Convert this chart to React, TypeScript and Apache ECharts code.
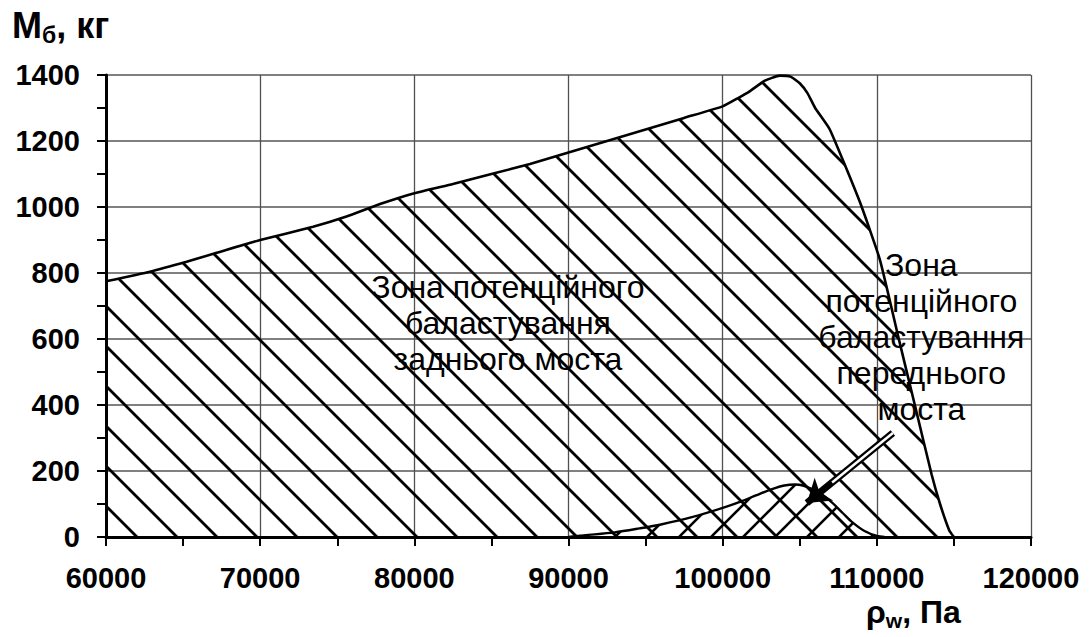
import React, { useEffect, useRef } from "react";
import * as echarts from "echarts";

// ---- data ----
const xTicks = { min: 60000, max: 120000, interval: 10000 };
const yTicks = { min: 0, max: 1400, interval: 200 };

// upper boundary of the rear-axle ballasting zone  [ρw, Мб]
const rearZone: [number, number][] = [
  [60000, 775], [62850, 804], [65230, 834], [67180, 861], [70000, 900],
  [73430, 940], [75600, 971], [77770, 1009], [80000, 1042], [82500, 1070],
  [85000, 1100], [87500, 1130], [90000, 1165], [92500, 1200], [95000, 1235],
  [97500, 1270], [100000, 1305], [101000, 1330], [101800, 1352], [102700, 1382],
  [103700, 1398], [104400, 1395], [105000, 1375], [105500, 1345], [106000, 1300],
  [106950, 1235], [108900, 1015], [110200, 840], [111400, 605], [112500, 393],
  [113550, 190], [114100, 100], [114700, 20], [115000, 0],
];

// boundary of the front-axle ballasting zone
const frontZone: [number, number][] = [
  [90000, 0], [91000, 5], [93000, 14], [94600, 26], [96000, 38], [98000, 60],
  [100000, 88], [101200, 108], [102200, 127], [103200, 145], [104000, 156],
  [104700, 159], [105200, 156], [105800, 145], [106400, 130], [107100, 104],
  [107800, 72], [108400, 45], [109200, 18], [110000, 3], [110500, 0],
];

// arrow annotation (data coordinates)
const arrowTail: [number, number] = [111040, 315];
const arrowTip: [number, number] = [105460, 103];
const arrowNeck: [number, number] = [107100, 165];

// text annotations (data coordinates)
const rearLabel = { text: "Зона потенційного\nбаластування\nзаднього моста", at: [86070, 648] };
const frontLabel = { text: "Зона\nпотенційного\nбаластування\nпереднього\nмоста", at: [112886, 606] };

const FONT = "'Liberation Sans', Arial, Helvetica, sans-serif";

function makeHatch(size: number, dir: "back" | "fwd", width: number) {
  const c = document.createElement("canvas");
  c.width = size;
  c.height = size;
  const ctx = c.getContext("2d")!;
  ctx.strokeStyle = "#000";
  ctx.lineWidth = width;
  ctx.lineCap = "square";
  for (const off of [-size, 0, size]) {
    ctx.beginPath();
    if (dir === "back") {
      ctx.moveTo(off, 0);
      ctx.lineTo(off + size, size);
    } else {
      ctx.moveTo(off, size);
      ctx.lineTo(off + size, 0);
    }
    ctx.stroke();
  }
  return c;
}

export default function App() {
  const ref = useRef<HTMLDivElement>(null);

  useEffect(() => {
    document.body.style.margin = "0";
    const chart = echarts.init(ref.current!, undefined, { renderer: "svg" });
    const backHatch = makeHatch(40, "back", 2.8);
    const fwdHatch = makeHatch(32, "fwd", 2.6);
    const plain = (v: number) => String(v);

    chart.setOption({
      animation: false,
      backgroundColor: "#fff",
      grid: { left: 106, right: 58, top: 75, bottom: 100, containLabel: false },
      xAxis: {
        type: "value",
        min: xTicks.min,
        max: xTicks.max,
        interval: xTicks.interval,
        axisLine: { show: true, onZero: false, lineStyle: { color: "#000", width: 3 } },
        axisTick: { show: true, length: 9, lineStyle: { color: "#000", width: 2 } },
        minorTick: { show: true, splitNumber: 2, length: 9, lineStyle: { color: "#000", width: 2 } },
        axisLabel: {
          margin: 26,
          color: "#000",
          fontSize: 29,
          fontWeight: "bold",
          fontFamily: FONT,
          formatter: plain,
        },
        splitLine: { show: true, lineStyle: { color: "#505050", width: 1.3 } },
      },
      yAxis: {
        type: "value",
        min: yTicks.min,
        max: yTicks.max,
        interval: yTicks.interval,
        axisLine: { show: true, onZero: false, lineStyle: { color: "#000", width: 3 } },
        axisTick: { show: true, length: 9, lineStyle: { color: "#000", width: 2 } },
        minorTick: { show: true, splitNumber: 2, length: 9, lineStyle: { color: "#000", width: 2 } },
        axisLabel: {
          margin: 26,
          color: "#000",
          fontSize: 29,
          fontWeight: "bold",
          fontFamily: FONT,
          formatter: plain,
        },
        splitLine: { show: true, lineStyle: { color: "#808080", width: 2 } },
      },
      series: [
        {
          type: "line",
          data: rearZone,
          smooth: 0.15,
          showSymbol: false,
          symbol: "none",
          lineStyle: { color: "#000", width: 2.6 },
          areaStyle: { color: { image: backHatch, repeat: "repeat" }, opacity: 1 },
          z: 3,
        },
        {
          type: "line",
          data: frontZone,
          smooth: 0.3,
          showSymbol: false,
          symbol: "none",
          lineStyle: { color: "#000", width: 2.4 },
          areaStyle: { color: { image: fwdHatch, repeat: "repeat" }, opacity: 1 },
          z: 4,
          markLine: {
            silent: true,
            animation: false,
            label: { show: false },
            data: [
              [
                { coord: arrowTail, symbol: "none", lineStyle: { color: "#000", width: 7, type: "solid" } },
                { coord: arrowTip, symbol: "arrow", symbolSize: 22 },
              ],
              [
                { coord: arrowTail, symbol: "none", lineStyle: { color: "#fff", width: 2.5, type: "solid" } },
                { coord: arrowNeck, symbol: "none" },
              ],
            ],
          },
        },
      ],
    });

    const p1 = chart.convertToPixel({ gridIndex: 0 }, rearLabel.at) as number[];
    const p2 = chart.convertToPixel({ gridIndex: 0 }, frontLabel.at) as number[];
    const labelStyle = {
      fill: "#000",
      fontSize: 32,
      fontFamily: FONT,
      lineHeight: 36,
      align: "center",
      verticalAlign: "middle",
    };

    chart.setOption({
      graphic: [
        { type: "text", x: p1[0], y: p1[1], z: 100, style: { ...labelStyle, text: rearLabel.text } },
        { type: "text", x: p2[0], y: p2[1], z: 100, style: { ...labelStyle, text: frontLabel.text } },
        {
          type: "text",
          left: 12,
          top: 7,
          z: 100,
          style: {
            text: "{a|М}{b|б}{a|, кг}",
            rich: {
              a: { fontSize: 36, fontWeight: "bold", fontFamily: FONT, fill: "#000", lineHeight: 42 },
              b: { fontSize: 23, fontWeight: "bold", fontFamily: FONT, fill: "#000", verticalAlign: "bottom", lineHeight: 42 },
            },
          },
        },
        {
          type: "text",
          left: 866,
          top: 596,
          z: 100,
          style: {
            text: "{a|ρ}{b|w}{a|, Па}",
            rich: {
              a: { fontSize: 32, fontWeight: "bold", fontFamily: FONT, fill: "#000", lineHeight: 38 },
              b: { fontSize: 21, fontWeight: "bold", fontFamily: FONT, fill: "#000", verticalAlign: "bottom", lineHeight: 38 },
            },
          },
        },
      ],
    });

    return () => chart.dispose();
  }, []);

  return <div ref={ref} style={{ width: 1089, height: 637 }} />;
}
